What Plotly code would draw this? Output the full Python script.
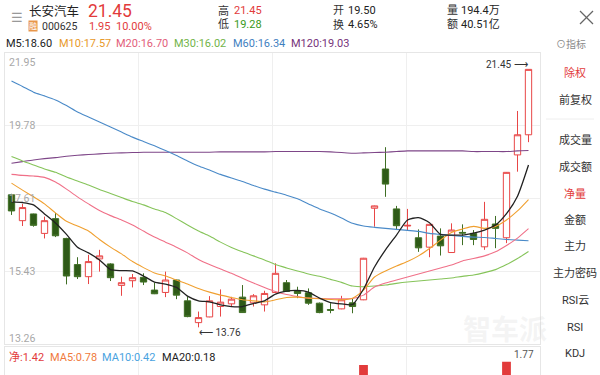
import plotly.graph_objects as go

W, H = 600, 375
FONT = "Roboto, 'Noto Sans CJK SC', sans-serif"

# ---------------- data ----------------
idx = list(range(48))
open_ = [17.71, 16.94, 17.14, 16.56, 17.00, 16.41, 15.63, 15.27, 15.80, 15.65,
         15.01, 15.15, 15.25, 14.87, 14.80, 15.17, 14.55, 13.90, 14.07, 14.38,
         14.46, 14.66, 14.49, 14.43, 14.80, 15.09, 14.85, 14.79, 14.48, 14.29,
         14.31, 14.49, 14.58, 17.31, 18.48, 17.29, 16.78, 16.43, 16.15, 16.48,
         15.99, 16.59, 16.56, 16.16, 16.84, 16.43, 18.90, 19.50]
high = [17.74, 17.44, 17.15, 17.06, 17.17, 16.43, 15.85, 15.92, 16.07, 15.67,
        15.27, 15.35, 15.37, 15.09, 15.42, 15.18, 14.67, 14.23, 14.69, 14.89,
        14.67, 15.02, 14.75, 14.85, 15.67, 15.17, 14.97, 14.92, 14.50, 14.48,
        14.70, 14.63, 15.83, 17.39, 19.13, 17.38, 17.29, 16.68, 16.84, 16.71,
        16.86, 16.83, 16.66, 17.50, 17.08, 18.39, 20.21, 21.45]
low = [17.11, 16.78, 16.76, 16.41, 16.45, 15.04, 15.20, 15.05, 15.42, 15.14,
       14.70, 14.95, 15.02, 14.75, 14.66, 14.60, 14.06, 13.76, 14.06, 14.08,
       14.38, 14.19, 14.38, 14.23, 14.79, 14.82, 14.63, 14.43, 14.18, 14.18,
       14.30, 14.18, 14.57, 16.76, 17.65, 16.66, 16.66, 16.01, 15.85, 15.90,
       15.98, 16.21, 16.21, 16.07, 16.12, 16.27, 18.40, 19.28]
close = [17.23, 17.33, 16.80, 16.94, 16.49, 15.29, 15.27, 15.72, 15.89, 15.24,
         15.09, 15.24, 15.11, 14.76, 15.17, 14.72, 14.08, 14.05, 14.55, 14.51,
         14.60, 14.20, 14.70, 14.77, 15.37, 14.83, 14.77, 14.48, 14.20, 14.27,
         14.58, 14.38, 15.82, 17.38, 18.03, 16.79, 16.80, 16.13, 16.83, 16.19,
         16.66, 16.57, 16.38, 16.98, 16.71, 18.38, 19.50, 21.45]

ma5 = [17.50, 17.48, 17.41, 17.14, 16.87, 16.53, 16.15, 15.98, 15.77, 15.48,
       15.45, 15.44, 15.29, 15.11, 15.05, 14.95, 14.69, 14.55, 14.52, 14.43,
       14.38, 14.38, 14.47, 14.55, 14.75, 14.84, 14.86, 14.81, 14.63, 14.50,
       14.46, 14.44, 14.90, 15.56, 16.07, 16.51, 16.96, 17.03, 16.88, 16.53,
       16.51, 16.51, 16.57, 16.66, 16.81, 17.15, 17.67, 18.60]
ma10 = [18.06, 17.85, 17.65, 17.44, 17.17, 16.92, 16.78, 16.63, 16.38, 16.15,
        15.95, 15.72, 15.54, 15.38, 15.29, 15.17, 15.05, 14.92, 14.81, 14.72,
        14.65, 14.58, 14.55, 14.52, 14.58, 14.65, 14.66, 14.63, 14.61, 14.59,
        14.58, 14.63, 14.87, 15.26, 15.44, 15.59, 15.72, 15.89, 16.11, 16.36,
        16.59, 16.69, 16.77, 16.71, 16.77, 16.96, 17.23, 17.57]
ma20 = [18.32, 18.29, 18.27, 18.23, 18.09, 17.88, 17.65, 17.44, 17.24, 17.09,
        16.96, 16.81, 16.63, 16.45, 16.30, 16.15, 15.98, 15.78, 15.63, 15.50,
        15.37, 15.22, 15.08, 14.95, 14.83, 14.74, 14.68, 14.63, 14.62, 14.61,
        14.61, 14.62, 14.72, 14.96, 15.08, 15.17, 15.26, 15.35, 15.44, 15.53,
        15.62, 15.74, 15.81, 15.89, 16.01, 16.20, 16.42, 16.70]
ma30 = [18.85, 18.72, 18.60, 18.48, 18.38, 18.24, 18.12, 18.00, 17.87, 17.75,
        17.63, 17.51, 17.41, 17.29, 17.18, 17.00, 16.81, 16.63, 16.48, 16.30,
        16.14, 16.01, 15.89, 15.77, 15.63, 15.53, 15.44, 15.35, 15.28, 15.19,
        15.10, 14.99, 14.97, 14.99, 15.02, 15.07, 15.11, 15.14, 15.17, 15.20,
        15.23, 15.28, 15.32, 15.39, 15.48, 15.63, 15.81, 16.02]
ma60 = [21.10, 20.94, 20.77, 20.66, 20.54, 20.37, 20.18, 20.03, 19.88, 19.73,
        19.58, 19.43, 19.30, 19.17, 19.03, 18.88, 18.72, 18.57, 18.45, 18.32,
        18.21, 18.11, 17.99, 17.88, 17.79, 17.70, 17.59, 17.44, 17.29, 17.17,
        17.02, 16.86, 16.78, 16.74, 16.71, 16.68, 16.65, 16.62, 16.56, 16.53,
        16.50, 16.47, 16.45, 16.44, 16.41, 16.38, 16.36, 16.34]
ma120 = [18.65, 18.70, 18.75, 18.79, 18.82, 18.86, 18.89, 18.91, 18.93, 18.95,
         18.96, 18.97, 18.98, 18.98, 18.98, 18.98, 18.98, 18.98, 18.98, 18.99,
         18.99, 18.99, 18.99, 18.99, 19.00, 19.00, 19.00, 19.00, 19.00, 18.99,
         18.97, 18.95, 18.96, 18.97, 18.98, 19.00, 19.02, 19.02, 19.02, 19.02,
         19.02, 19.02, 19.00, 19.00, 19.00, 19.00, 19.02, 19.03]

price_ticks = [13.26, 15.43, 17.61, 19.78, 21.95]

net_idx = [32, 45, 47]
net_val = [1.70, 1.77, 1.42]
net_max_label = "1.77"
net_ma = [("净", 1.42, "#e23b3b"), ("MA5", 0.78, "#f07a3c"),
          ("MA10", 0.42, "#4aa3df"), ("MA20", 0.18, "#222222")]

ma_series = [("M5", ma5, "#222222", "#222222", 1.3),
             ("M10", ma10, "#f0a030", "#e89a2a", 1.1),
             ("M20", ma20, "#f07088", "#e2607a", 1.1),
             ("M30", ma30, "#86c45a", "#72b448", 1.1),
             ("M60", ma60, "#4a8ac8", "#3f7fbf", 1.1),
             ("M120", ma120, "#7e4688", "#76327a", 1.1)]

side_menu = [("除权", 73, "#e23b3b"), ("前复权", 100, "#333333"),
             ("成交量", 140, "#333333"), ("成交额", 167, "#333333"),
             ("净量", 194, "#e23b3b"), ("金额", 220, "#333333"),
             ("主力", 247, "#333333"), ("主力密码", 273, "#333333"),
             ("RSI云", 300, "#333333"), ("RSI", 327, "#333333"),
             ("KDJ", 353, "#333333")]

# ---------------- helpers ----------------
def px(x):
    return x / W

def py(y):
    return 1 - y / H

X0, X1 = 5, 540
slot = 11.0
xr0 = -6.5 / slot
xr1 = xr0 + (X1 - X0) / slot
grid = "#efefef"

fig = go.Figure()

fig.add_trace(go.Candlestick(
    x=idx, open=open_, high=high, low=low, close=close,
    increasing=dict(line=dict(color="#e84646", width=1), fillcolor="#ffffff"),
    decreasing=dict(line=dict(color="#3f6e24", width=1), fillcolor="#2e5a17"),
    whiskerwidth=0, showlegend=False, hoverinfo="skip",
    xaxis="x", yaxis="y"))

for name, vals, col, _, lw in ma_series[::-1]:
    fig.add_trace(go.Scatter(x=idx, y=vals, mode="lines",
                             line=dict(color=col, width=lw, shape="spline", smoothing=0.6),
                             showlegend=False, hoverinfo="skip",
                             xaxis="x", yaxis="y"))

fig.add_trace(go.Bar(x=net_idx, y=net_val, marker=dict(color="#e23b3b", line=dict(width=0)),
                     width=0.8, showlegend=False, hoverinfo="skip",
                     xaxis="x2", yaxis="y2"))

ann = []

def t(x, y, text, size=11, color="#333333", xanchor="left", yanchor="middle", **kw):
    ann.append(dict(x=px(x), y=py(y), xref="paper", yref="paper", text=text,
                    showarrow=False, xanchor=xanchor, yanchor=yanchor,
                    font=dict(size=size, color=color, family=FONT), **kw))

# header
t(9, 17, "☰", size=13, color="#999999")
t(27, 11.5, "长安汽车", size=12.5, color="#222222")
t(86, 10.5, "21.45", size=17.5, color="#e23b3b")
ann.append(dict(x=px(33.3), y=py(26.5), xref="paper", yref="paper", text="融",
                showarrow=False, xanchor="center", yanchor="middle",
                bgcolor="#e8964a", borderpad=0,
                font=dict(size=8, color="#ffffff", family=FONT)))
t(40, 27, "000625", size=10.5, color="#333333")
t(87, 27, "1.95", size=11, color="#e23b3b")
t(114, 27, "10.00%", size=11, color="#e23b3b")

t(216, 11, "高", size=11, color="#333333")
t(232, 11, "21.45", size=11, color="#e23b3b")
t(216, 25, "低", size=11, color="#333333")
t(232, 25, "19.28", size=11, color="#3a9a1a")
t(331, 11, "开", size=11, color="#333333")
t(346, 11, "19.50", size=11, color="#222222")
t(331, 25, "换", size=11, color="#333333")
t(346, 25, "4.65%", size=11, color="#222222")
t(445, 11, "量", size=11, color="#333333")
t(459, 11, "194.4万", size=11, color="#222222")
t(445, 25, "额", size=11, color="#333333")
t(459, 25, "40.51亿", size=11, color="#222222")

# MA legend row
ma_x = [4, 57, 114, 172, 231, 289]
for (name, vals, _, tcol, _), x in zip(ma_series, ma_x):
    t(x, 43.5, f"{name}:{vals[-1]:.2f}", size=11, color=tcol)
t(554, 43.5, "⊙指标", size=10, color="#8a8a8a")

# price axis labels
for v in price_ticks:
    if v == price_ticks[-1]:
        ya, ys = "top", -1
    elif v == price_ticks[0]:
        ya, ys = "bottom", -3
    else:
        ya, ys = "middle", 0
    ann.append(dict(x=px(7), y=v, xref="paper", yref="y", text=f"{v:.2f}",
                    showarrow=False, xanchor="left", yanchor=ya, yshift=ys,
                    font=dict(size=10.5, color="#a8a8a8", family=FONT)))

# high / low markers
imax = high.index(max(high))
imin = low.index(min(low))
ann.append(dict(x=imax, y=high[imax], xref="x", yref="y", text=f"{high[imax]:.2f} ⟶",
                showarrow=False, xanchor="right", yanchor="middle", xshift=1, yshift=5,
                font=dict(size=10, color="#333333", family=FONT)))
ann.append(dict(x=imin, y=low[imin], xref="x", yref="y", text=f"⟵ {low[imin]:.2f}",
                showarrow=False, xanchor="left", yanchor="middle", xshift=-2, yshift=-5,
                font=dict(size=10, color="#333333", family=FONT)))

# lower panel legend
nx = [7, 48, 100, 160]
for (name, v, col), x in zip(net_ma, nx):
    t(x, 357, f"{name}:{v:.2f}", size=11, color=col)
t(536, 354, net_max_label, size=10, color="#555555", xanchor="right")

# side menu
for label, y, col in side_menu:
    t(575, y, label, size=11, color=col, xanchor="center")

# watermark
t(505, 330, "<b>智车派</b>", size=28, color="rgba(205,205,205,0.22)", xanchor="center")

shapes = [
    dict(type="line", xref="paper", yref="paper", x0=px(580), y0=py(11), x1=px(593), y1=py(24),
         line=dict(color="#666666", width=1.2)),
    dict(type="line", xref="paper", yref="paper", x0=px(593), y0=py(11), x1=px(580), y1=py(24),
         line=dict(color="#666666", width=1.2)),
    dict(type="line", xref="paper", yref="paper", x0=px(546), y0=py(119), x1=px(594), y1=py(119),
         line=dict(color="#eeeeee", width=1)),
]

axis_common = dict(showgrid=True, gridcolor=grid, gridwidth=1, zeroline=False,
                   showticklabels=False, ticks="", showline=True, linecolor="#e6e6e6",
                   linewidth=1, mirror=True, fixedrange=True)

fig.update_layout(
    width=W, height=H,
    margin=dict(l=0, r=0, t=0, b=0),
    paper_bgcolor="#ffffff", plot_bgcolor="#ffffff",
    boxgap=0.18,
    showlegend=False,
    annotations=ann,
    shapes=shapes,
    xaxis=dict(domain=[px(X0), px(X1)], range=[xr0, xr1], tick0=xr0, dtick=(xr1 - xr0) / 4,
               rangeslider=dict(visible=False), anchor="y", **axis_common),
    yaxis=dict(domain=[py(344.1), py(52.6)], range=[price_ticks[0], price_ticks[-1]],
               tickvals=price_ticks, anchor="x", **axis_common),
    xaxis2=dict(domain=[px(X0), px(X1)], range=[xr0, xr1], tick0=xr0, dtick=(xr1 - xr0) / 4,
                anchor="y2", **axis_common),
    yaxis2=dict(domain=[0, py(347.3)], range=[1.474, 2.097], anchor="x2",
                **{**axis_common, "showgrid": False}),
)

fig.write_html("out.html")
